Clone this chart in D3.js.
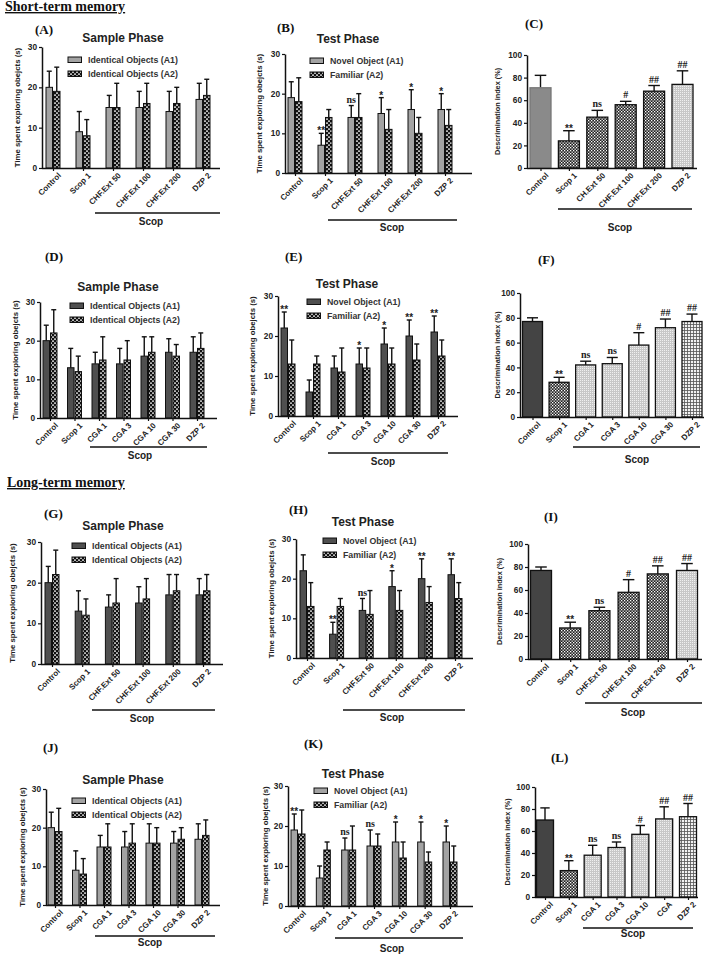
<!DOCTYPE html>
<meta charset="utf-8">
<head>
  <script src="https://d3js.org/d3.v7.min.js"></script>
  <style>
    body { margin: 0; background: #fff; }
    text { font-family: "Liberation Sans", Arial, sans-serif; }
  </style>
</head>
<body>
<div id="fig"></div>
<script>
// ---- categories / labels ----
var chfGroups = ["Control", "Scop 1", "CHF.Ext 50", "CHF.Ext 100", "CHF.Ext 200", "DZP 2"];
var chGroupsC = ["Control", "Scop 1", "CH.Ext 50", "CHF.Ext 100", "CHF.Ext 200", "DZP 2"];
var cgaGroups = ["Control", "Scop 1", "CGA 1", "CGA 3", "CGA 10", "CGA 30", "DZP 2"];
var cgaGroupsL = ["Control", "Scop 1", "CGA 1", "CGA 3", "CGA 10", "CGA", "DZP 2"];
var sampleLegend = ["Identical Objects (A1)", "Identical Objects (A2)"];
var testLegend = ["Novel Object (A1)", "Familiar (A2)"];
var timeTicks = [0, 10, 20, 30];
var diTicks = [0, 20, 40, 60, 80, 100];

// ---- values (mean and SD) ----
var aA1 = [20, 9, 15, 15, 14, 17],   aA1sd = [4, 5, 3, 4, 5, 4];
var aA2 = [19, 8, 15, 16, 16, 18],   aA2sd = [6, 4, 6, 5, 4, 4];

var bA1 = [19, 7, 14, 15, 16, 16],   bA1sd = [4, 3, 3, 4, 5, 4];
var bA2 = [18, 14, 14, 11, 10, 12],  bA2sd = [6, 2, 6, 5, 4, 4];
var bMarks = ["", "**", "ns", "*", "*", "*"];

var cDI = [71, 24, 45, 56, 68, 74],  cDIsd = [11, 9, 6, 3, 5, 12];
var cMarks = ["", "**", "ns", "#", "##", "##"];

var dA1 = [20, 13, 14, 14, 16, 17, 17],  dA1sd = [4, 5, 3, 4, 5, 3.5, 4];
var dA2 = [22, 12, 15, 15, 17, 16, 18],  dA2sd = [6, 4, 6, 5, 4, 3, 4];

var eA1 = [22, 6, 12, 13, 18, 20, 21],   eA1sd = [4, 3, 3, 4, 4, 4, 4];
var eA2 = [13, 13, 11, 12, 13, 14, 15],  eA2sd = [6, 2, 6, 5, 4, 4, 4];
var eMarks = ["**", "", "", "*", "*", "**", "**"];

var fDI = [77, 28, 42, 43, 58, 72, 77],  fDIsd = [3, 4, 3, 5, 10, 7, 6];
var fMarks = ["", "**", "ns", "ns", "#", "##", "##"];

var gA1 = [20, 13, 14, 15, 17, 17],  gA1sd = [4, 5, 3, 4, 5, 4];
var gA2 = [22, 12, 15, 16, 18, 18],  gA2sd = [6, 4, 6, 5, 4, 4];

var hA1 = [22, 6, 12, 18, 20, 21],   hA1sd = [4, 3, 3, 4, 5, 4];
var hA2 = [13, 13, 11, 12, 14, 15],  hA2sd = [6, 2, 6, 5, 4, 4];
var hMarks = ["", "**", "ns", "*", "**", "**"];

var iDI = [77, 27, 42, 58, 74, 77],  iDIsd = [3, 5, 3, 11, 7, 6];
var iMarks = ["", "**", "ns", "#", "##", "##"];

var jA1 = [20, 9, 15, 15, 16, 16, 17],  jA1sd = [4, 5, 3, 4, 5, 3, 4];
var jA2 = [19, 8, 15, 16, 16, 17, 18],  jA2sd = [6, 4, 6, 5, 4, 3, 4];

var kA1 = [19, 7, 14, 15, 16, 16, 16],  kA1sd = [4, 3, 3, 4, 5, 5, 4];
var kA2 = [18, 14, 14, 15, 12, 11, 11], kA2sd = [6, 2, 6, 3, 4, 2.5, 4];
var kMarks = ["**", "", "ns", "ns", "*", "*", "*"];

var lDI = [70, 24, 38, 45, 57, 71, 73],  lDIsd = [11, 9, 9, 5, 8, 11, 12];
var lMarks = ["", "**", "ns", "ns", "#", "##", "##"];

// ---- drawing ----
var svg = d3.select("#fig").append("svg").attr("width", 709).attr("height", 954);
var defs = svg.append("defs");

function pattern(id, w, h, bg, cells) {
  var p = defs.append("pattern").attr("id", id)
    .attr("width", w).attr("height", h).attr("patternUnits", "userSpaceOnUse");
  p.append("rect").attr("width", w).attr("height", h).attr("fill", bg);
  cells.forEach(function (c) {
    p.append("rect").attr("x", c[0]).attr("y", c[1]).attr("width", c[2]).attr("height", c[3]).attr("fill", c[4]);
  });
}
pattern("wave", 4, 4, "#111", [[0, 0.5, 2, 1.2, "#fff"], [2, 2.5, 2, 1.2, "#fff"]]);
pattern("check", 3, 3, "#222", [[0, 0, 1.3, 1.3, "#fff"], [1.5, 1.5, 1.3, 1.3, "#fff"]]);
pattern("dots", 2, 2, "#c8c8c8", [[0, 0, 1, 1, "#f0f0f0"]]);
pattern("grid", 3, 3, "#f2f2f2", [[0, 0, 3, 0.8, "#555"], [0, 0, 0.8, 3, "#555"]]);

var LIGHT = "#a3a3a3", DARK = "#4f4f4f", CHECK = "url(#check)", DOTS = "url(#dots)", GRID = "url(#grid)";

var panels = [
  { k: "(A)", kind: "pair", groups: chfGroups, a1: aA1, s1: aA1sd, a2: aA2, s2: aA2sd, marks: null,
    legend: sampleLegend, title: "Sample Phase", fill1: LIGHT,
    ax: 42, xe: 220, c0: 53, c1: 203, top: 47, base: 168, tx: 123, ty: 42, lx: 35, ly: 34,
    gx: 68, gy: 57, yl: 20, sl: [95, 220, 213], st: [151, 225] },
  { k: "(B)", kind: "pair", groups: chfGroups, a1: bA1, s1: bA1sd, a2: bA2, s2: bA2sd, marks: bMarks,
    legend: testLegend, title: "Test Phase", fill1: LIGHT,
    ax: 285, xe: 472, c0: 295, c1: 445, top: 54, base: 173, tx: 348, ty: 43, lx: 277, ly: 32,
    gx: 310, gy: 58, yl: 262, sl: [328, 457, 220], st: [392, 231] },
  { k: "(C)", kind: "di", groups: chGroupsC, v: cDI, sd: cDIsd, marks: cMarks,
    fills: ["#8a8a8a", CHECK, CHECK, CHECK, CHECK, DOTS], bw: 21,
    ax: 527, xe: 697, c0: 540.5, c1: 682.5, top: 55, base: 168, lx: 525, ly: 28,
    yl: 500, sl: [558, 692, 209], st: [620, 231] },
  { k: "(D)", kind: "pair", groups: cgaGroups, a1: dA1, s1: dA1sd, a2: dA2, s2: dA2sd, marks: null,
    legend: sampleLegend, title: "Sample Phase", fill1: DARK,
    ax: 40, xe: 217, c0: 50, c1: 197, top: 302, base: 418, tx: 118, ty: 291, lx: 45, ly: 261,
    gx: 70, gy: 303, yl: 18, sl: [90, 207, 447], st: [140, 459] },
  { k: "(E)", kind: "pair", groups: cgaGroups, a1: eA1, s1: eA1sd, a2: eA2, s2: eA2sd, marks: eMarks,
    legend: testLegend, title: "Test Phase", fill1: DARK,
    ax: 278, xe: 458, c0: 288, c1: 438, top: 296, base: 416, tx: 347, ty: 288, lx: 285, ly: 261,
    gx: 307, gy: 299, yl: 255, sl: [328, 448, 453], st: [383, 465] },
  { k: "(F)", kind: "di", groups: cgaGroups, v: fDI, sd: fDIsd, marks: fMarks,
    fills: ["#444", CHECK, DOTS, DOTS, DOTS, DOTS, GRID], bw: 20,
    ax: 520, xe: 704, c0: 532.5, c1: 692, top: 293, base: 417, lx: 538, ly: 264,
    yl: 500, sl: [573, 700, 447], st: [637, 463] },
  { k: "(G)", kind: "pair", groups: chfGroups, a1: gA1, s1: gA1sd, a2: gA2, s2: gA2sd, marks: null,
    legend: sampleLegend, title: "Sample Phase", fill1: DARK,
    ax: 41, xe: 223, c0: 52, c1: 203, top: 542, base: 664, tx: 123, ty: 530, lx: 44, ly: 518,
    gx: 72, gy: 543, yl: 15, sl: [92, 215, 710], st: [142, 722] },
  { k: "(H)", kind: "pair", groups: chfGroups, a1: hA1, s1: hA1sd, a2: hA2, s2: hA2sd, marks: hMarks,
    legend: testLegend, title: "Test Phase", fill1: DARK,
    ax: 296, xe: 473, c0: 307, c1: 455, top: 539, base: 658, tx: 363, ty: 526, lx: 289, ly: 514,
    gx: 323, gy: 538, yl: 274, sl: [343, 465, 710], st: [392, 721] },
  { k: "(I)", kind: "di", groups: chfGroups, v: iDI, sd: iDIsd, marks: iMarks,
    fills: ["#444", CHECK, CHECK, CHECK, CHECK, DOTS], bw: 21,
    ax: 528, xe: 702, c0: 541, c1: 687, top: 544, base: 659, lx: 544, ly: 521,
    yl: 502, sl: [585, 702, 703], st: [633, 716] },
  { k: "(J)", kind: "pair", groups: cgaGroups, a1: jA1, s1: jA1sd, a2: jA2, s2: jA2sd, marks: null,
    legend: sampleLegend, title: "Sample Phase", fill1: LIGHT,
    ax: 46, xe: 220, c0: 55, c1: 202, top: 789, base: 905, tx: 123, ty: 784, lx: 43, ly: 752,
    gx: 72, gy: 798, yl: 25, sl: [95, 215, 936], st: [150, 946] },
  { k: "(K)", kind: "pair", groups: cgaGroups, a1: kA1, s1: kA1sd, a2: kA2, s2: kA2sd, marks: kMarks,
    legend: testLegend, title: "Test Phase", fill1: LIGHT,
    ax: 288, xe: 473, c0: 298, c1: 450, top: 786, base: 906, tx: 353, ty: 778, lx: 304, ly: 748,
    gx: 314, gy: 788, yl: 268, sl: [335, 463, 938], st: [392, 952] },
  { k: "(L)", kind: "di", groups: cgaGroupsL, v: lDI, sd: lDIsd, marks: lMarks,
    fills: ["#444", CHECK, DOTS, DOTS, DOTS, DOTS, GRID], bw: 17,
    ax: 535, xe: 698, c0: 545, c1: 688, top: 787, base: 897, lx: 551, ly: 762,
    yl: 510, sl: [583, 693, 928], st: [633, 937] }
];

function styleAxis(sel, size) {
  sel.select(".domain").attr("stroke", "#111").attr("stroke-width", 1.5);
  sel.selectAll(".tick line").attr("stroke", "#111").attr("stroke-width", 1.2);
  sel.selectAll(".tick text").attr("fill", "#222").style("font-size", size + "px").style("font-weight", "bold");
}

function common(g, p, y, x, ticks, ylabel, ylSize) {
  g.append("g").attr("transform", "translate(" + p.ax + ",0)")
    .call(d3.axisLeft(y).tickValues(ticks).tickSize(3).tickPadding(2).tickSizeOuter(0))
    .call(styleAxis, 8.3);
  var xa = g.append("g").attr("transform", "translate(0," + p.base + ")")
    .call(d3.axisBottom(x).tickSize(3).tickSizeOuter(0))
    .call(styleAxis, 8);
  xa.select(".domain").remove();
  xa.selectAll(".tick text").attr("x", 0).attr("y", 0).attr("dy", 0)
    .attr("transform", "translate(8,8) rotate(-45)").style("text-anchor", "end");
  g.append("line").attr("x1", p.ax).attr("x2", p.xe).attr("y1", p.base + 0.5).attr("y2", p.base + 0.5)
    .attr("stroke", "#111").attr("stroke-width", 1.5);

  g.append("text").attr("transform", "translate(" + p.yl + "," + (p.top + p.base) / 2 + ") rotate(-90)")
    .attr("text-anchor", "middle").style("font-size", ylSize + "px").style("font-weight", "bold")
    .attr("fill", "#222").text(ylabel);

  g.append("text").attr("x", p.lx).attr("y", p.ly).text(p.k)
    .style("font-family", "'Liberation Serif', 'Times New Roman', serif")
    .style("font-weight", "bold").style("font-size", "13px").attr("fill", "#111");

  g.append("line").attr("x1", p.sl[0]).attr("x2", p.sl[1]).attr("y1", p.sl[2]).attr("y2", p.sl[2])
    .attr("stroke", "#111").attr("stroke-width", 1.6);
  g.append("text").attr("x", p.st[0]).attr("y", p.st[1]).attr("text-anchor", "middle")
    .style("font-size", "10px").style("font-weight", "bold").attr("fill", "#222").text("Scop");
}

function errBars(g, data, cx, top, vy, cap) {
  g.append("g").selectAll("line.stem").data(data).join("line").attr("class", "stem")
    .attr("x1", cx).attr("x2", cx).attr("y1", vy).attr("y2", top)
    .attr("stroke", "#111").attr("stroke-width", 1.4);
  g.append("g").selectAll("line.cap").data(data).join("line").attr("class", "cap")
    .attr("x1", function (d) { return cx(d) - cap / 2; }).attr("x2", function (d) { return cx(d) + cap / 2; })
    .attr("y1", top).attr("y2", top)
    .attr("stroke", "#111").attr("stroke-width", 1.4);
}

function marks(g, data, cx, top) {
  g.append("g").selectAll("text").data(data.filter(function (d) { return d.mk; })).join("text")
    .attr("x", cx)
    .attr("y", function (d) { return d.mk.indexOf("*") >= 0 ? top(d) + 1 : top(d) - 3; })
    .attr("text-anchor", "middle")
    .style("font-family", function (d) {
      return d.mk.indexOf("*") >= 0 ? "'Liberation Sans', Arial, sans-serif" : "'Liberation Serif', 'Times New Roman', serif";
    })
    .style("font-size", "10px")
    .style("font-weight", "bold").attr("fill", "#222")
    .text(function (d) { return d.mk; });
}

function pairPanel(p) {
  var g = svg.append("g");
  var y = d3.scaleLinear().domain([0, 30]).range([p.base, p.top]);
  var x = d3.scalePoint().domain(p.groups).range([p.c0, p.c1]);
  var bw = 6.5;
  var rows = p.groups.map(function (name, i) {
    return { name: name, a1: p.a1[i], s1: p.s1[i], a2: p.a2[i], s2: p.s2[i], mk: p.marks ? p.marks[i] : "" };
  });

  var c1 = function (d) { return x(d.name) - 0.5 - bw / 2; };
  var c2 = function (d) { return x(d.name) + 0.5 + bw / 2; };

  errBars(g, rows, c1, function (d) { return y(d.a1 + d.s1); }, function (d) { return y(d.a1); }, 5);
  errBars(g, rows, c2, function (d) { return y(d.a2 + d.s2); }, function (d) { return y(d.a2); }, 5);

  g.append("g").selectAll("rect").data(rows).join("rect")
    .attr("x", function (d) { return c1(d) - bw / 2; }).attr("y", function (d) { return y(d.a1); })
    .attr("width", bw).attr("height", function (d) { return y(0) - y(d.a1); })
    .attr("fill", p.fill1).attr("stroke", "#111").attr("stroke-width", 1);
  g.append("g").selectAll("rect").data(rows).join("rect")
    .attr("x", function (d) { return c2(d) - bw / 2; }).attr("y", function (d) { return y(d.a2); })
    .attr("width", bw).attr("height", function (d) { return y(0) - y(d.a2); })
    .attr("fill", "url(#wave)").attr("stroke", "#111").attr("stroke-width", 1);

  marks(g, rows, c1, function (d) { return y(d.a1 + d.s1); });

  common(g, p, y, x, timeTicks, "Time spent exploring obejcts (s)", 7.8);

  g.append("text").attr("x", p.tx).attr("y", p.ty).attr("text-anchor", "middle")
    .style("font-size", "12px").style("font-weight", "bold").attr("fill", "#222").text(p.title);

  var fills = [p.fill1, "url(#wave)"];
  var lg = g.append("g").selectAll("g").data(p.legend).join("g")
    .attr("transform", function (d, i) { return "translate(" + p.gx + "," + (p.gy + i * 14) + ")"; });
  lg.append("rect").attr("width", 13.5).attr("height", 5.5)
    .attr("fill", function (d, i) { return fills[i]; }).attr("stroke", "#111").attr("stroke-width", 1);
  lg.append("text").attr("x", 20).attr("y", 6.3).text(function (d) { return d; })
    .style("font-size", "8.8px").style("font-weight", "bold").attr("fill", "#333");
}

function diPanel(p) {
  var g = svg.append("g");
  var y = d3.scaleLinear().domain([0, 100]).range([p.base, p.top]);
  var x = d3.scalePoint().domain(p.groups).range([p.c0, p.c1]);
  var rows = p.groups.map(function (name, i) {
    return { name: name, v: p.v[i], s: p.sd[i], mk: p.marks[i], fill: p.fills[i] };
  });
  var cx = function (d) { return x(d.name); };

  errBars(g, rows, cx, function (d) { return y(d.v + d.s); }, function (d) { return y(d.v); }, p.bw * 0.55);

  g.append("g").selectAll("rect").data(rows).join("rect")
    .attr("x", function (d) { return cx(d) - p.bw / 2; }).attr("y", function (d) { return y(d.v); })
    .attr("width", p.bw).attr("height", function (d) { return y(0) - y(d.v); })
    .attr("fill", function (d) { return d.fill; })
    .attr("stroke", function (d, i) { return (i === 0 && p.k === "(C)") ? "#777" : "#111"; })
    .attr("stroke-width", 1.3);

  marks(g, rows, cx, function (d) { return y(d.v + d.s); });

  common(g, p, y, x, diTicks, "Descrimination index (%)", 7.3);
}

panels.forEach(function (p) { if (p.kind === "pair") pairPanel(p); else diPanel(p); });

// section headings
svg.append("text").attr("x", 5).attr("y", 11).text("Short-term memory")
  .style("font-family", "'Liberation Serif', 'Times New Roman', serif").style("font-weight", "bold")
  .style("font-size", "14px").style("text-decoration", "underline").attr("fill", "#111");
svg.append("text").attr("x", 7).attr("y", 487).text("Long-term memory")
  .style("font-family", "'Liberation Serif', 'Times New Roman', serif").style("font-weight", "bold")
  .style("font-size", "14px").style("text-decoration", "underline").attr("fill", "#111");
</script>
</body>
</html>
